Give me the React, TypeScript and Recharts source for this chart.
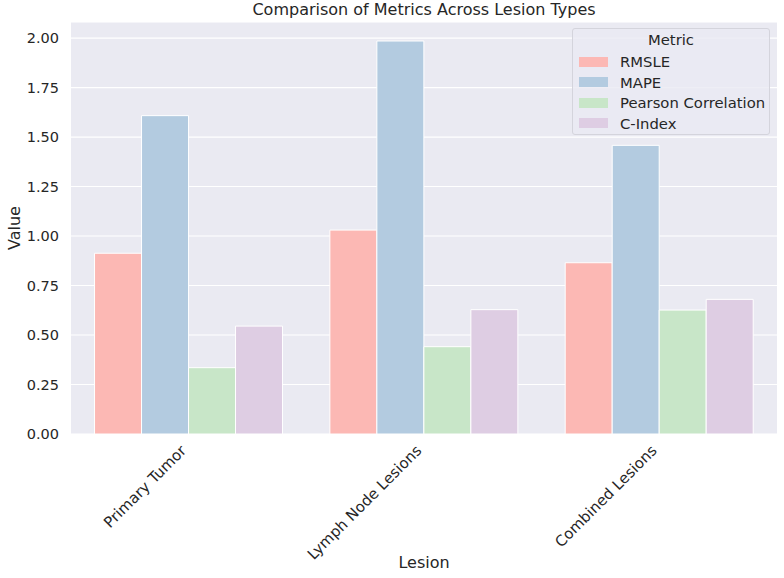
import React from 'react';
import { BarChart, Bar, XAxis, YAxis, CartesianGrid } from 'recharts';

const lesions = ['Primary Tumor', 'Lymph Node Lesions', 'Combined Lesions'];
const metrics = ['RMSLE', 'MAPE', 'Pearson Correlation', 'C-Index'];
const rmsle = [0.913, 1.03, 0.865];
const mape = [1.608, 1.985, 1.458];
const pearson = [0.335, 0.441, 0.626];
const cIndex = [0.545, 0.628, 0.68];
const yTicks = [0, 0.25, 0.5, 0.75, 1.0, 1.25, 1.5, 1.75, 2.0];

const COLORS = ['#FCB8B4', '#B3CBE0', '#C8E6C8', '#DECDE3'];
const FONT = '"DejaVu Sans", sans-serif';
const TEXT = '#262626';

const data = lesions.map((name, i) => ({
  name,
  RMSLE: rmsle[i],
  MAPE: mape[i],
  'Pearson Correlation': pearson[i],
  'C-Index': cIndex[i],
}));

function RotatedTick(props: any) {
  const { x, y, payload } = props;
  const ax = x - 9;
  const ay = y + 2;
  return (
    <text
      x={ax}
      y={ay}
      textAnchor="end"
      fontSize={15}
      fontFamily={FONT}
      fill={TEXT}
      dy="0.71em"
      transform={`rotate(-45, ${ax}, ${ay})`}
    >
      {payload.value}
    </text>
  );
}

function MetricLegend() {
  return (
    <div
      style={{
        position: 'absolute',
        left: 572,
        top: 28,
        width: 198,
        height: 107,
        boxSizing: 'border-box',
        background: 'rgba(234,234,242,0.8)',
        border: '1px solid #d4d4dc',
        borderRadius: 3,
        fontFamily: FONT,
        color: TEXT,
        fontSize: 14.8,
      }}
    >
      <div style={{ position: 'absolute', top: 2, left: 0, width: '100%', textAlign: 'center' }}>Metric</div>
      {metrics.map((m, i) => (
        <div key={m} style={{ position: 'absolute', left: 6, top: 23.5 + i * 20.6, height: 18, display: 'flex', alignItems: 'center' }}>
          <div style={{ width: 29, height: 10, background: COLORS[i], marginRight: 12 }} />
          <span>{m}</span>
        </div>
      ))}
    </div>
  );
}

export default function App() {
  return (
    <div style={{ position: 'absolute', left: 0, top: 0, width: 784, height: 578, background: '#fff' }}>
      <BarChart
        width={784}
        height={578}
        data={data}
        margin={{ top: 22, right: 7, bottom: 0, left: 0 }}
        barCategoryGap="10%"
        barGap={0}
      >
        <CartesianGrid vertical={false} stroke="#ffffff" strokeWidth={1.2} fill="#EAEAF2" />
        <XAxis
          dataKey="name"
          axisLine={false}
          tickLine={false}
          interval={0}
          tick={<RotatedTick />}
          height={144}
        />
        <YAxis
          domain={[0, 2.081]}
          ticks={yTicks}
          interval={0}
          tickFormatter={(v: number) => v.toFixed(2)}
          axisLine={false}
          tickLine={false}
          tickMargin={6}
          width={71}
          tick={{ fontSize: 14.5, fontFamily: FONT, fill: TEXT }}
        />
        {metrics.map((m, i) => (
          <Bar key={m} dataKey={m} fill={COLORS[i]} stroke="#ffffff" strokeWidth={1} isAnimationActive={false} />
        ))}
      </BarChart>
      <MetricLegend />
      <div style={{ position: 'absolute', left: 71, width: 706, top: 0, textAlign: 'center', fontFamily: FONT, fontSize: 16, color: TEXT }}>
        Comparison of Metrics Across Lesion Types
      </div>
      <div style={{ position: 'absolute', left: 71, width: 706, top: 553, textAlign: 'center', fontFamily: FONT, fontSize: 16, color: TEXT }}>
        Lesion
      </div>
      <div
        style={{
          position: 'absolute',
          left: 14,
          top: 228,
          transform: 'translate(-50%, -50%) rotate(-90deg)',
          fontFamily: FONT,
          fontSize: 16,
          color: TEXT,
          whiteSpace: 'nowrap',
        }}
      >
        Value
      </div>
    </div>
  );
}
